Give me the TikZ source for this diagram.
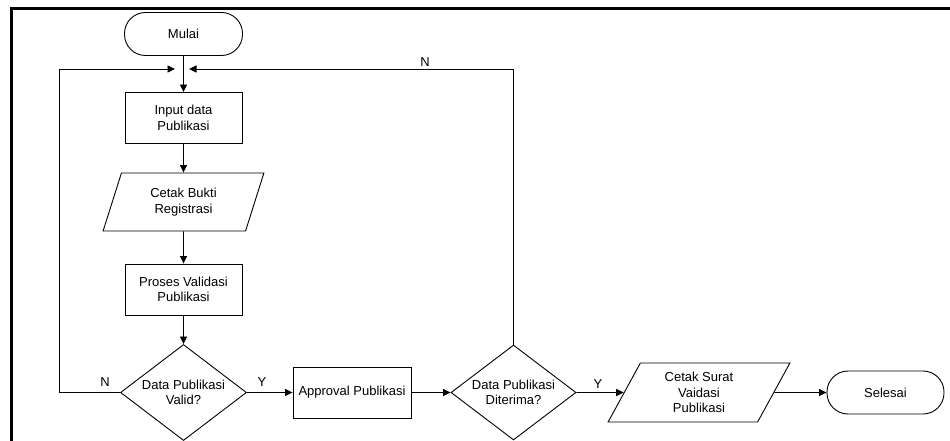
\documentclass[tikz,border=0pt]{standalone}
\usepackage{fontspec}
\setmainfont{Liberation Sans}
\usetikzlibrary{arrows.meta,shapes.geometric}
\begin{document}
\begin{tikzpicture}[x=1pt,y=-1pt,
  every node/.style={font=\fontsize{13}{15.5}\selectfont, align=center, inner sep=0pt},
  base/.style={draw=black, line width=0.9pt},
  term/.style={base, rectangle, rounded corners=21pt, minimum width=118pt, minimum height=43pt},
  proc/.style={base, rectangle, minimum width=117pt, minimum height=51pt},
  io/.style={base, trapezium, trapezium stretches=true, trapezium left angle=#1, trapezium right angle=180-#1},
  dec/.style={base, diamond, inner sep=-12pt, shape aspect=1.3, minimum width=126pt, minimum height=96pt},
  lbl/.style={font=\fontsize{13}{15}\selectfont},
  conn/.style={line width=0.9pt, -{Triangle[length=7.5pt,width=7pt]}},
  line/.style={line width=0.9pt}
]
\useasboundingbox (0,0) rectangle (950,441);
% frame
\draw[line width=3pt] (11,441) -- (11,9) -- (950,9);

\node[term] (mulai) at (183.5,34) {Mulai};
\node[proc] (input) at (183.5,118) {Input data\\Publikasi};
\node[io=70.4, minimum width=161pt, minimum height=58pt] (cetak1) at (183.5,202) {Cetak Bukti\\Registrasi};
\node[proc] (proses) at (183.5,289.5) {Proses Validasi\\Publikasi};
\node[dec] (valid) at (183.5,392.5) {Data Publikasi\\Valid?};
\node[proc, minimum width=118pt] (approval) at (352,392.5) {Approval Publikasi};
\node[dec, minimum width=125pt, minimum height=95pt] (terima) at (513.5,392.5) {Data Publikasi\\Diterima?};
\node[io=65, minimum width=182pt, minimum height=59pt] (cetak2) at (699,392.5) {Cetak Surat\\Vaidasi\\Publikasi};
\node[term, minimum width=117pt] (selesai) at (885.5,392.5) {Selesai};

\node[lbl] (ln1) at (105,382) {N};
\node[lbl] (ly1) at (262,382) {Y};
\node[lbl] (ln2) at (425,62) {N};
\node[lbl] (ly2) at (598,384) {Y};

\coordinate (jl) at (175,69);
\coordinate (jr) at (189,69);
\coordinate (lc1) at (59,392.5);
\coordinate (lc2) at (59,69);
\coordinate (rc) at (513.5,69);

\draw[conn] (mulai) -- (input);
\draw[conn] (input) -- (cetak1);
\draw[conn] (cetak1) -- (proses);
\draw[conn] (proses) -- (valid);
\draw[conn] (valid) -- (approval);
\draw[conn] (approval) -- (terima);
\draw[conn] (terima) -- (cetak2);
\draw[conn] (cetak2) -- (selesai);
\draw[conn] (valid.west) -- (lc1) -- (lc2) -- (jl);
\draw[conn] (terima.north) -- (rc) -- (jr);
\end{tikzpicture}
\end{document}
